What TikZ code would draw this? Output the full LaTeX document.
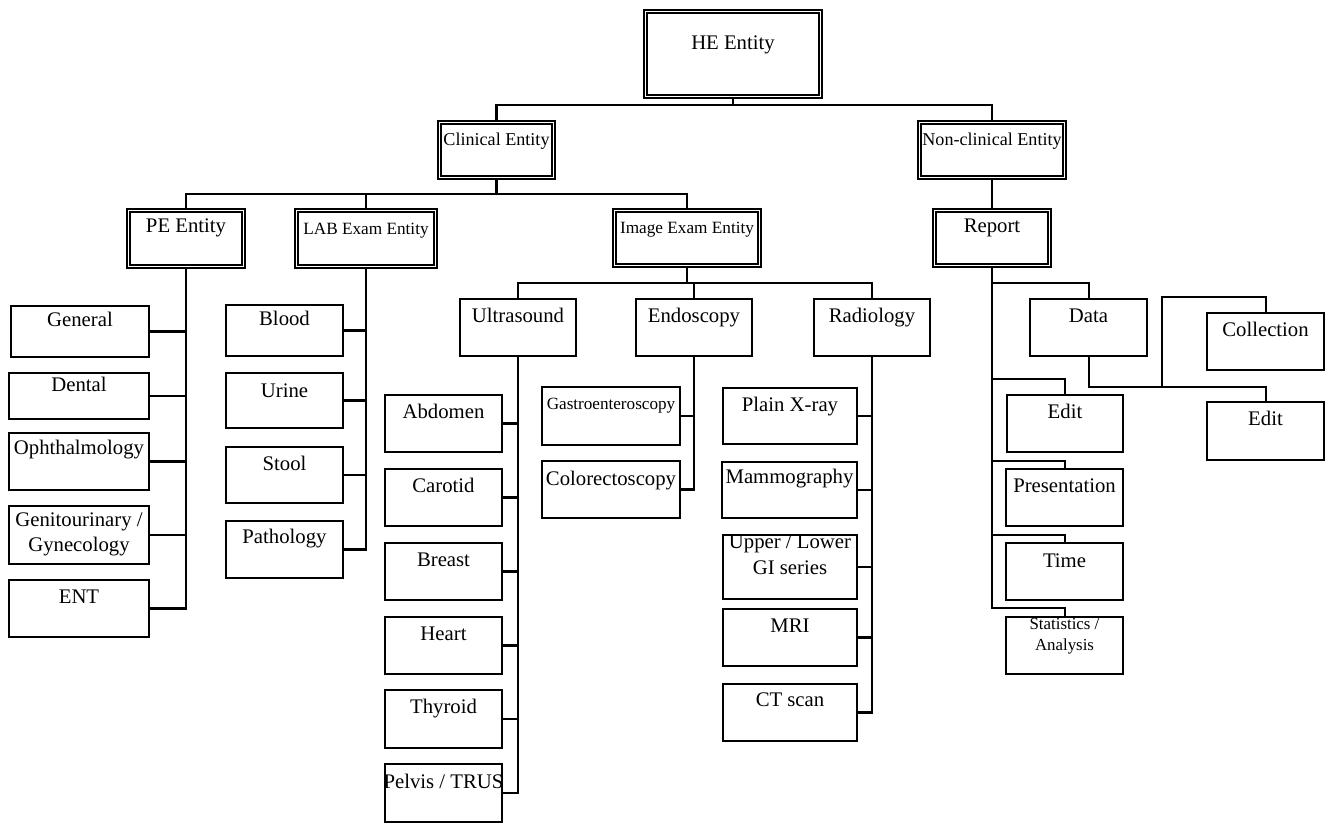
\documentclass[tikz,border=0pt]{standalone}
\usepackage{fontspec}
\setmainfont{Liberation Serif}

% plain box: style, name, x1, y1, x2, y2 (outer edges, px), label options, label y, text
\newcommand\mkbox[9]{%
  \node[#1, minimum width={(#5-#3-2)*0.02cm}, minimum height={(#6-#4-2)*0.02cm}] (#2) at ({(#3+#5)/2},{(#4+#6)/2}) {};
  \node[lbl, #7] (#2-t) at ({(#3+#5)/2},#8) {#9};}
% double-framed box, same arguments
\newcommand\mkdbox[9]{%
  \node[#1, minimum width={(#5-#3-5)*0.02cm}, minimum height={(#6-#4-5)*0.02cm}] (#2) at ({(#3+#5)/2},{(#4+#6)/2}) {};
  \node[lbl, #7] (#2-t) at ({(#3+#5)/2},#8) {#9};}

\tikzset{
  sbox/.style={draw, rectangle, line width=1.15pt, inner sep=0pt},
  dbox/.style={draw, rectangle, line width=1.05pt, double, double distance=0.9pt, inner sep=0pt},
  lbl/.style={inner sep=0pt, anchor=base, align=center, font=\fontsize{11.8}{14.2}\selectfont},
  fmid/.style={font=\fontsize{10.3}{12}\selectfont},
  fsmall/.style={font=\fontsize{9.8}{11.8}\selectfont},
  link/.style={line width=1.15pt},
}

\begin{document}
\begin{tikzpicture}[x=0.02cm, y=-0.02cm]
\useasboundingbox[fill=white] (0,0) rectangle (1331,824);

% ---- upper levels (double frames)
\mkdbox{dbox}{he}{643}{9}{823}{99}{}{50}{HE Entity}
\mkdbox{dbox}{clin}{437}{120}{556}{180}{fmid}{146}{Clinical Entity}
\mkdbox{dbox}{ncl}{917}{120}{1067}{180}{fmid}{146}{Non-clinical Entity}
\mkdbox{dbox}{pe}{126}{208}{246}{269}{}{233}{PE Entity}
\mkdbox{dbox}{lab}{294}{208}{438}{269}{fsmall}{235}{LAB Exam Entity}
\mkdbox{dbox}{img}{612}{208}{762}{268}{fsmall}{234}{Image Exam Entity}
\mkdbox{dbox}{rep}{932}{208}{1052}{268}{}{233}{Report}

% ---- PE entity
\mkbox{sbox}{gen}{10}{305}{150}{358}{}{326}{General}
\mkbox{sbox}{dent}{8}{372}{150}{420}{}{391}{Dental}
\mkbox{sbox}{oph}{8}{432}{150}{491}{}{454}{Ophthalmology}
\mkbox{sbox}{gyn}{8}{505}{150}{565}{anchor=center}{534}{Genitourinary /\\Gynecology}
\mkbox{sbox}{ent}{8}{579}{150}{638}{}{603}{ENT}

% ---- LAB exam
\mkbox{sbox}{blood}{225}{304}{344}{357}{}{325}{Blood}
\mkbox{sbox}{urine}{225}{372}{344}{429}{}{397}{Urine}
\mkbox{sbox}{stool}{225}{446}{344}{504}{}{470}{Stool}
\mkbox{sbox}{path}{225}{520}{344}{579}{}{543}{Pathology}

% ---- image exam
\mkbox{sbox}{us}{459}{298}{577}{357}{}{322}{Ultrasound}
\mkbox{sbox}{endo}{635}{298}{753}{357}{}{322}{Endoscopy}
\mkbox{sbox}{rad}{813}{298}{931}{357}{}{322}{Radiology}

\mkbox{sbox}{abd}{384}{394}{503}{453}{}{418}{Abdomen}
\mkbox{sbox}{car}{384}{468}{503}{527}{}{492}{Carotid}
\mkbox{sbox}{bre}{384}{542}{503}{601}{}{566}{Breast}
\mkbox{sbox}{hea}{384}{616}{503}{675}{}{640}{Heart}
\mkbox{sbox}{thy}{384}{689}{503}{749}{}{713}{Thyroid}
\mkbox{sbox}{pel}{384}{763}{503}{823}{}{788}{Pelvis / TRUS}

\mkbox{sbox}{gast}{541}{386}{681}{446}{font=\fontsize{9.75}{11.7}\selectfont}{409}{Gastroenteroscopy}
\mkbox{sbox}{colo}{541}{460}{681}{519}{}{485}{Colorectoscopy}

\mkbox{sbox}{xray}{722}{387}{858}{445}{}{411}{Plain X-ray}
\mkbox{sbox}{mam}{721}{461}{858}{519}{}{483}{Mammography}
\mkbox{sbox}{gi}{722}{534}{858}{600}{anchor=center, font=\fontsize{11.8}{14.7}\selectfont}{555}{Upper / Lower\\GI series}
\mkbox{sbox}{mri}{722}{608}{858}{667}{}{632}{MRI}
\mkbox{sbox}{ct}{722}{683}{858}{742}{}{706}{CT scan}

% ---- report
\mkbox{sbox}{data}{1029}{298}{1148}{357}{}{322}{Data}
\mkbox{sbox}{coll}{1206}{312}{1325}{371}{}{336}{Collection}
\mkbox{sbox}{editb}{1206}{401}{1325}{461}{}{425}{Edit}
\mkbox{sbox}{edita}{1006}{394}{1124}{453}{}{418}{Edit}
\mkbox{sbox}{pres}{1005}{468}{1124}{527}{}{492}{Presentation}
\mkbox{sbox}{time}{1005}{542}{1124}{601}{}{567}{Time}
\mkbox{sbox}{stat}{1005}{616}{1124}{675}{anchor=center, font=\fontsize{9.6}{11.9}\selectfont}{636}{Statistics /\\Analysis}

% ---- connectors: tree buses
\coordinate (j0) at (0,105);
\coordinate (j1) at (0,194);
\coordinate (j2) at (0,283);

\draw[link] (he.south) -- (he.south |- j0);
\draw[link] (clin.north) -- (clin.north |- j0) -- (ncl.north |- j0) -- (ncl.north);

\draw[link] (clin.south) -- (clin.south |- j1);
\draw[link] (pe.north) -- (pe.north |- j1) -- (img.north |- j1) -- (img.north);
\draw[link] (lab.north) -- (lab.north |- j1);

\draw[link] (img.south) -- (img.south |- j2);
\draw[link] (us.north) -- (us.north |- j2) -- (rad.north |- j2) -- (rad.north);
\draw[link] (endo.north) -- (endo.north |- j2);

\draw[link] (ncl.south) -- (rep.north);

% ---- side spines with leaves
\draw[link] (pe.south) |- (ent.east);
\foreach \c in {gen,dent,oph,gyn} \draw[link] (\c.east) -- (\c.east -| pe.south);

\draw[link] (lab.south) |- (path.east);
\foreach \c in {blood,urine,stool} \draw[link] (\c.east) -- (\c.east -| lab.south);

\draw[link] (us.south) |- (pel.east);
\foreach \c in {abd,car,bre,hea,thy} \draw[link] (\c.east) -- (\c.east -| us.south);

\draw[link] (endo.south) |- (colo.east);
\draw[link] (gast.east) -- (gast.east -| endo.south);

\draw[link] (rad.south) |- (ct.east);
\foreach \c in {xray,mam,gi,mri} \draw[link] (\c.east) -- (\c.east -| rad.south);

% ---- report spine, elbows into the tops of the children
\coordinate (r1) at (rep.south |- 0,283);
\coordinate (r2) at (rep.south |- 0,379);
\coordinate (r3) at (rep.south |- 0,461);
\coordinate (r4) at (rep.south |- 0,535);
\coordinate (r5) at (rep.south |- 0,608);
\draw[link] (rep.south) -- (r5) -| (stat.north);
\draw[link] (r1) -| (data.north);
\draw[link] (r2) -| (edita.north);
\draw[link] (r3) -| (pres.north);
\draw[link] (r4) -| (time.north);

% ---- data branch
\coordinate (d1) at (data.south |- 0,387);
\coordinate (d2) at (1162,387);
\coordinate (d3) at (1162,297);
\draw[link] (data.south) -- (d1) -| (editb.north);
\draw[link] (d2) -- (d3) -| (coll.north);

\end{tikzpicture}
\end{document}
